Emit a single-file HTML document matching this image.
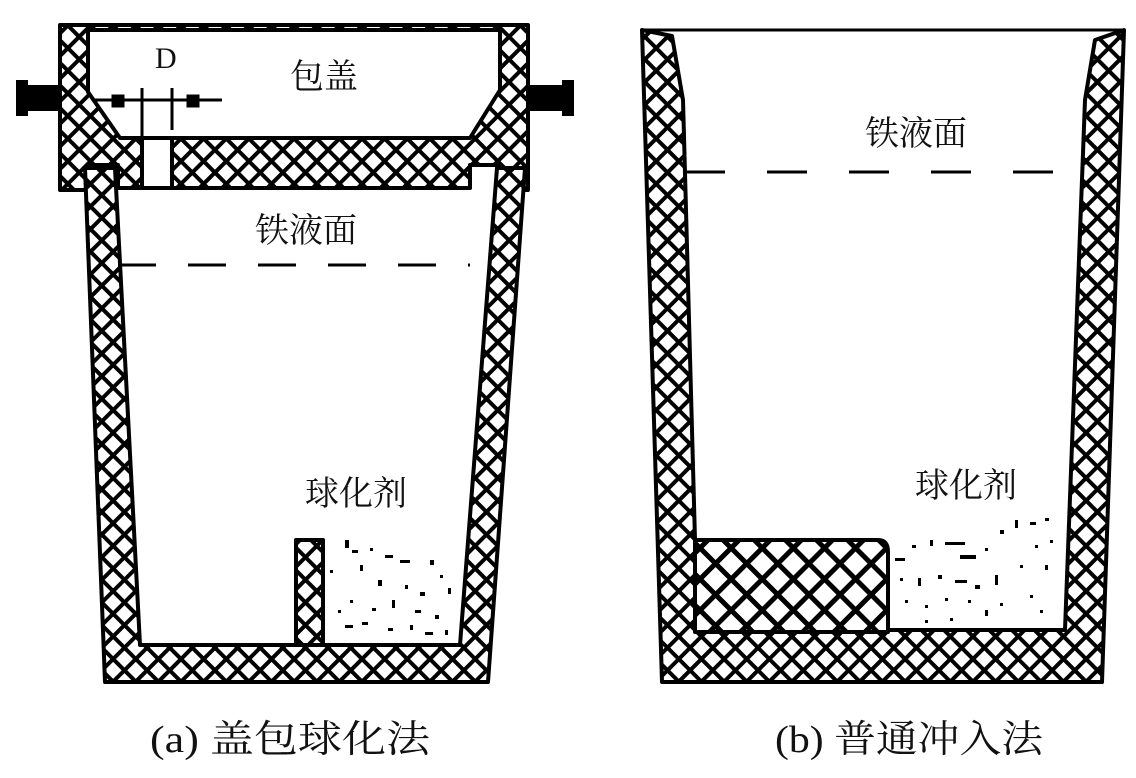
<!DOCTYPE html>
<html><head><meta charset="utf-8"><style>
html,body{margin:0;padding:0;background:#fff;width:1136px;height:778px;overflow:hidden}
text{font-family:"Liberation Serif","Noto Serif CJK SC","Noto Sans CJK SC",serif;fill:#111}
</style></head><body>
<svg width="1136" height="778" viewBox="0 0 1136 778" xmlns="http://www.w3.org/2000/svg">
<defs>
<pattern id="h" width="16" height="16" patternUnits="userSpaceOnUse" patternTransform="rotate(45)">
<rect width="16" height="16" fill="#fff"/>
<rect x="0" y="0" width="16" height="4" fill="#000"/>
<rect x="0" y="0" width="4" height="16" fill="#000"/>
</pattern>
<pattern id="h2" width="22" height="22" patternUnits="userSpaceOnUse" patternTransform="rotate(45)">
<rect width="22" height="22" fill="#fff"/>
<rect x="0" y="0" width="22" height="5" fill="#000"/>
<rect x="0" y="0" width="5" height="22" fill="#000"/>
</pattern>
</defs>
<g stroke="#000" stroke-width="4" fill="url(#h)" stroke-linejoin="round">
<path d="M60,25 H528 V190 H500 V165 H470 V188 H118 V165 H88 V190 H60 Z"/>
<path d="M88,30 H500 V90 L470,138 H120 L88,92 Z" fill="#fff"/>
<line x1="60" y1="25" x2="528" y2="25"/>
<rect x="142" y="138" width="30" height="50" fill="#fff"/>
<path d="M85,168 L115,168 L140,645 L460,645 L497,168 L525,168 L488,682 L105,682 Z"/>
<rect x="296" y="540" width="27" height="105"/>
</g>
<rect x="18" y="85" width="44" height="26" fill="#000"/>
<rect x="16" y="80" width="12" height="36" fill="#000"/>
<rect x="528" y="85" width="44" height="26" fill="#000"/>
<rect x="562" y="80" width="12" height="36" fill="#000"/>
<g stroke="#000" stroke-width="3">
<line x1="95" y1="100" x2="222" y2="100"/>
<line x1="142" y1="88" x2="142" y2="138"/>
<line x1="172" y1="88" x2="172" y2="130"/>
<rect x="113" y="96" width="10" height="10" fill="#000"/>
<rect x="188" y="96" width="10" height="10" fill="#000"/>
</g>
<line x1="118" y1="265" x2="470" y2="265" stroke="#000" stroke-width="3" stroke-dasharray="38,32"/>
<g stroke="#000" stroke-width="4" fill="url(#h)" stroke-linejoin="round">
<path d="M642,30 L672,36 L683,100 L695,540 L695,630 L1065,630 L1085,100 L1095,40 L1124,30 L1102,682 L662,682 Z"/>
<path d="M695,540 H878 Q888,540 888,552 V632 H695 Z" fill="url(#h2)"/>
</g>
<line x1="642" y1="30" x2="1124" y2="30" stroke="#000" stroke-width="3"/>
<line x1="685" y1="172" x2="1090" y2="172" stroke="#000" stroke-width="3" stroke-dasharray="40,42"/>
<g fill="#000">
<rect x="345" y="540" width="4" height="8"/><rect x="352" y="550" width="6" height="3"/><rect x="370" y="548" width="3" height="3"/><rect x="385" y="555" width="8" height="3"/><rect x="400" y="560" width="10" height="3"/><rect x="430" y="560" width="4" height="5"/><rect x="440" y="575" width="3" height="3"/><rect x="360" y="565" width="3" height="6"/><rect x="378" y="580" width="4" height="6"/><rect x="405" y="585" width="3" height="4"/><rect x="420" y="592" width="5" height="4"/><rect x="448" y="588" width="3" height="6"/><rect x="350" y="600" width="3" height="3"/><rect x="372" y="608" width="4" height="3"/><rect x="392" y="600" width="3" height="8"/><rect x="415" y="610" width="6" height="3"/><rect x="435" y="615" width="4" height="4"/><rect x="345" y="625" width="8" height="3"/><rect x="362" y="622" width="6" height="3"/><rect x="388" y="628" width="5" height="3"/><rect x="410" y="625" width="3" height="5"/><rect x="425" y="632" width="8" height="3"/><rect x="445" y="630" width="3" height="5"/><rect x="330" y="570" width="3" height="3"/><rect x="338" y="610" width="3" height="3"/>
<rect x="895" y="558" width="10" height="3"/><rect x="912" y="545" width="4" height="3"/><rect x="930" y="540" width="3" height="6"/><rect x="945" y="542" width="20" height="3"/><rect x="960" y="555" width="16" height="4"/><rect x="985" y="548" width="3" height="3"/><rect x="1000" y="530" width="4" height="4"/><rect x="1015" y="520" width="3" height="8"/><rect x="1030" y="522" width="6" height="3"/><rect x="1045" y="518" width="4" height="3"/><rect x="1035" y="545" width="3" height="3"/><rect x="1050" y="540" width="3" height="3"/><rect x="900" y="578" width="3" height="3"/><rect x="918" y="578" width="3" height="8"/><rect x="938" y="575" width="4" height="4"/><rect x="955" y="580" width="12" height="3"/><rect x="975" y="585" width="5" height="4"/><rect x="995" y="575" width="3" height="10"/><rect x="1020" y="565" width="3" height="3"/><rect x="1045" y="565" width="3" height="5"/><rect x="905" y="600" width="3" height="3"/><rect x="925" y="605" width="3" height="3"/><rect x="945" y="598" width="3" height="3"/><rect x="968" y="600" width="3" height="3"/><rect x="985" y="610" width="3" height="6"/><rect x="1000" y="603" width="3" height="3"/><rect x="925" y="620" width="3" height="3"/><rect x="950" y="618" width="3" height="3"/><rect x="1030" y="595" width="3" height="3"/><rect x="1040" y="610" width="3" height="3"/>
</g>
<text x="155" y="68" font-size="30">D</text>
<text x="290" y="88" font-size="34">包盖</text>
<text x="255" y="242" font-size="34">铁液面</text>
<text x="305" y="505" font-size="34">球化剂</text>
<text x="865" y="145" font-size="34">铁液面</text>
<text x="915" y="497" font-size="34">球化剂</text>
<text x="150" y="752" font-size="38" textLength="280" lengthAdjust="spacingAndGlyphs">(a) 盖包球化法</text>
<text x="775" y="752" font-size="38" textLength="268" lengthAdjust="spacingAndGlyphs">(b) 普通冲入法</text>
</svg>
</body></html>
